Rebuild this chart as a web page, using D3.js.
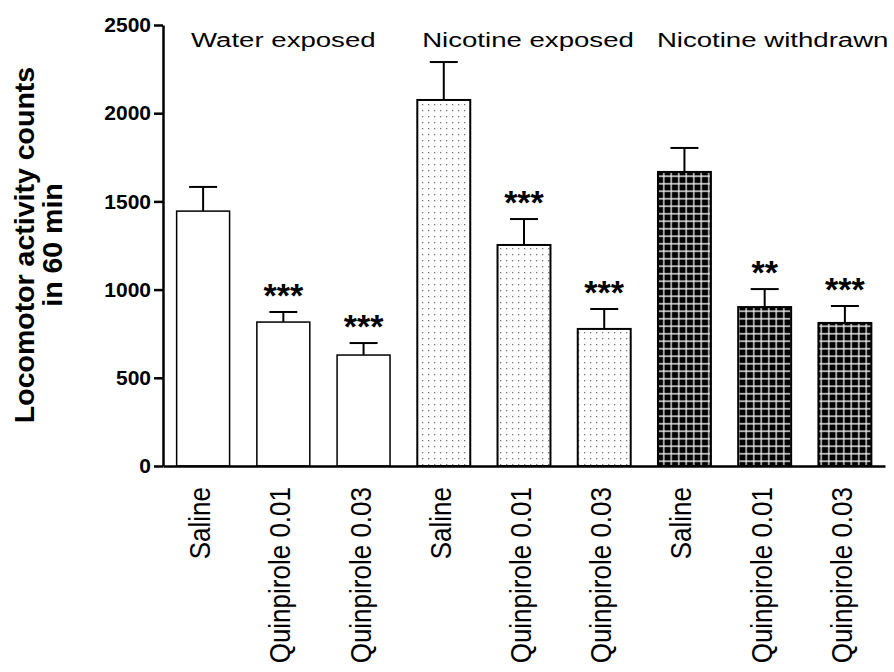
<!DOCTYPE html>
<html>
<head>
<meta charset="utf-8">
<script src="https://cdn.jsdelivr.net/npm/d3@7"></script>
<style>
  body { margin: 0; background: #fff; }
  svg { display: block; font-family: Arial, "Liberation Sans", sans-serif; }
</style>
</head>
<body>
<svg id="chart"></svg>
<script>
// data
const categories = ["Saline", "Quinpirole 0.01", "Quinpirole 0.03",
                    "Saline", "Quinpirole 0.01", "Quinpirole 0.03",
                    "Saline", "Quinpirole 0.01", "Quinpirole 0.03"];
const groups = ["Water exposed", "Nicotine exposed", "Nicotine withdrawn"];
const means = [1445, 816, 629, 2075, 1253, 777, 1667, 901, 811];
const sems = [137, 57, 68, 215, 147, 113, 136, 102, 96];
const stars = ["", "***", "***", "", "***", "***", "", "**", "***"];
const yTicks = [0, 500, 1000, 1500, 2000, 2500];

const w = 894, h = 672;
const svg = d3.select('#chart').attr('width', w).attr('height', h);

// patterns for the nicotine groups
const defs = svg.append('defs');
const dots = defs.append('pattern')
    .attr('id', 'dots').attr('patternUnits', 'userSpaceOnUse')
    .attr('width', 6).attr('height', 6);
dots.append('rect').attr('width', 6).attr('height', 6).attr('fill', '#fff');
dots.append('rect').attr('x', 2).attr('y', 2).attr('width', 1.3).attr('height', 1.3).attr('fill', '#777');

const grid = defs.append('pattern')
    .attr('id', 'grid').attr('patternUnits', 'userSpaceOnUse')
    .attr('width', 7.5).attr('height', 7.5);
grid.append('rect').attr('width', 7.5).attr('height', 7.5).attr('fill', '#000');
grid.append('path').attr('d', 'M0,3.75H7.5M3.75,0V7.5')
    .attr('stroke', '#eee').attr('stroke-width', 1.3);

const fills = ['#fff', 'url(#dots)', 'url(#grid)'];

// scales
const x = d3.scaleBand()
    .domain(d3.range(categories.length))
    .range([163, 885])
    .paddingInner(0.34)
    .paddingOuter(0.17);

const y = d3.scaleLinear()
    .domain([0, 2500])
    .range([466, 25]);

// y axis
const yAxis = svg.append('g')
    .attr('transform', 'translate(163,0)')
    .call(d3.axisLeft(y).tickValues(yTicks).tickFormat(d3.format('d'))
        .tickSize(9).tickSizeOuter(0).tickPadding(3));
yAxis.select('.domain').attr('stroke-width', 2.5);
yAxis.selectAll('.tick line').attr('stroke-width', 2.5);
yAxis.selectAll('.tick text')
    .attr('font-size', 21).attr('font-weight', 'bold')
    .attr('font-family', 'Arial, "Liberation Sans", sans-serif')
    .attr('fill', '#000');

// bars
svg.selectAll('.bar')
    .data(means)
    .join('rect')
        .attr('class', 'bar')
        .attr('x', (v, i) => x(i))
        .attr('y', v => y(v))
        .attr('width', x.bandwidth())
        .attr('height', v => y(0) - y(v))
        .attr('fill', (v, i) => fills[Math.floor(i / 3)])
        .attr('stroke', '#000')
        .attr('stroke-width', (v, i) => i < 3 ? 1.5 : 2);

// error bars (upper only)
const err = svg.selectAll('.err')
    .data(means)
    .join('g')
        .attr('class', 'err')
        .attr('stroke', '#000')
        .attr('stroke-width', 2);
err.append('line')
    .attr('x1', (v, i) => x(i) + x.bandwidth() / 2)
    .attr('x2', (v, i) => x(i) + x.bandwidth() / 2)
    .attr('y1', v => y(v))
    .attr('y2', (v, i) => y(v + sems[i]));
err.append('line')
    .attr('x1', (v, i) => x(i) + x.bandwidth() / 2 - 14)
    .attr('x2', (v, i) => x(i) + x.bandwidth() / 2 + 14)
    .attr('y1', (v, i) => y(v + sems[i]))
    .attr('y2', (v, i) => y(v + sems[i]));

// significance stars
svg.selectAll('.star')
    .data(stars)
    .join('text')
        .attr('class', 'star')
        .attr('x', (s, i) => x(i) + x.bandwidth() / 2)
        .attr('y', (s, i) => y(means[i] + sems[i]) - 5)
        .attr('text-anchor', 'middle')
        .attr('font-size', 34)
        .attr('font-weight', 'bold')
        .text(s => s);

// x axis
const xAxis = svg.append('g')
    .attr('transform', `translate(0,${y(0)})`)
    .call(d3.axisBottom(x).tickSize(0).tickSizeOuter(0).tickFormat(i => categories[i]));
xAxis.select('.domain').attr('stroke-width', 2.5);
xAxis.selectAll('.tick text')
    .attr('font-size', 26)
    .attr('font-family', 'Arial, "Liberation Sans", sans-serif')
    .attr('fill', '#000')
    .attr('text-anchor', 'end')
    .attr('dy', '0.35em')
    .attr('y', 0)
    .attr('transform', 'translate(-3,21) rotate(-90) scale(1,1.1)');

// group titles
svg.selectAll('.group')
    .data(groups)
    .join('text')
        .attr('class', 'group')
        .attr('transform', (g, i) => `translate(${x(i * 3 + 1) + x.bandwidth() / 2 + i * 4},47) scale(1.38,1)`)
        .attr('text-anchor', 'middle')
        .attr('font-size', 20)
        .text(g => g);

// y axis title
const yTitle = svg.append('text')
    .attr('transform', 'translate(34,245) rotate(-90)')
    .attr('text-anchor', 'middle')
    .attr('font-size', 28.5)
    .attr('font-weight', 'bold');
yTitle.append('tspan').attr('x', 0).attr('dy', 0).text('Locomotor activity counts');
yTitle.append('tspan').attr('x', 0).attr('dy', 28).text('in 60 min');
</script>
</body>
</html>
